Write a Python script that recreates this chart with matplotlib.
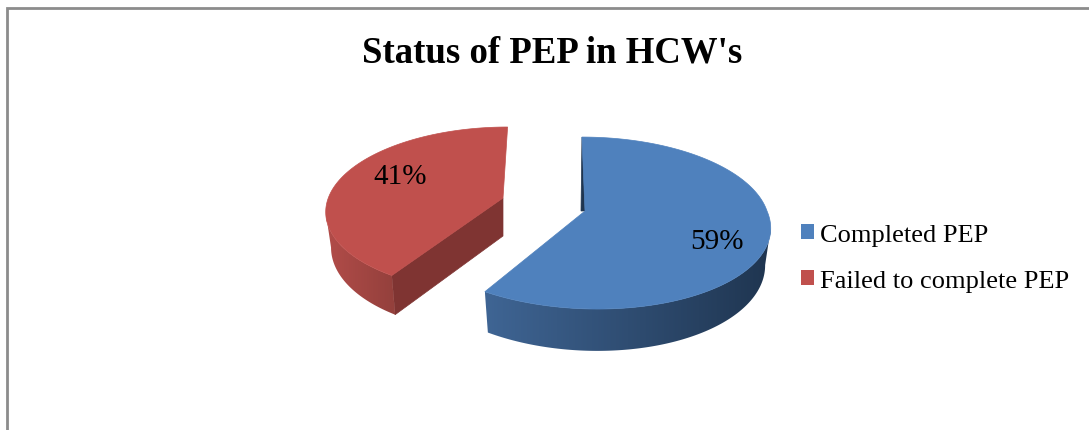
import numpy as np
import matplotlib.pyplot as plt
from matplotlib.colors import LinearSegmentedColormap
from matplotlib.patches import Patch, Polygon

categories = ["Completed PEP", "Failed to complete PEP"]
percent = [59, 41]
title = "Status of PEP in HCW's"

plt.rcParams['font.family'] = ['Liberation Serif', 'DejaVu Serif']

fig = plt.figure(figsize=(10.89, 4.31), dpi=100)
ax = fig.add_axes([0, 0, 1, 1])
ax.axis("off")


def project(r, clock, apex, scale, skew, depth=0.0):
    # clock = degrees clockwise from 12 o'clock, perspective squeezes the back
    t = np.radians(clock)
    x, y = r * np.sin(t), r * np.cos(t)
    w = 1 + 0.14 * y
    s = np.where(y >= 0, skew[0], skew[1])
    shrink = 1 - 0.03 * depth / 36  # lower rim is a bit narrower
    sx = apex[0] + scale * shrink * 182 * (x + s * y) / w
    sy = apex[1] - scale * 84.3 * y / w + scale * depth / w
    return np.column_stack([sx, sy])


def outer_wall(clock, apex, scale, skew, col_a, col_b, z):
    # gradient runs left to right, clipped to the wall outline
    top = project(1, clock, apex, scale, skew)
    bot = project(1, clock, apex, scale, skew, 36)
    outline = np.vstack([top, bot[::-1]])
    cmap = LinearSegmentedColormap.from_list("wall", [col_a, col_b])
    x0, x1 = outline[:, 0].min(), outline[:, 0].max()
    y0, y1 = outline[:, 1].min(), outline[:, 1].max()
    im = ax.imshow(np.linspace(0, 1, 256).reshape(1, -1), cmap=cmap, aspect="auto",
                   extent=(x0, x1, y1, y0), zorder=z)
    poly = Polygon(outline, closed=True, fc="none", ec="none", transform=ax.transData)
    ax.add_patch(poly)
    im.set_clip_path(poly)


def top_face(clock, apex, scale, skew, col, z):
    rim = project(1, clock, apex, scale, skew)
    ax.add_patch(Polygon(np.vstack([[apex], rim]), closed=True, fc=col, ec=col, lw=0.5, zorder=z))


# slice angles come from the percentages
edges = np.concatenate([[0], np.cumsum(percent)]) * 3.6

# blue slice
blue_apex = (585, 212)
blue_skew = (-0.019, -0.06)
blue_clock = np.linspace(edges[0], edges[1], 240)
# wall starts at the rightmost point of the rim
right = np.argmax(project(1, blue_clock, blue_apex, 1.0, blue_skew)[:, 0])
outer_wall(blue_clock[right:], blue_apex, 1.0, blue_skew, "#3f6594", "#1f3550", 1)
rim_top = project(1, edges[0], blue_apex, 1.0, blue_skew)[0]
ax.add_patch(Polygon([rim_top, blue_apex, (blue_apex[0] - 4, blue_apex[1])], closed=True,
                     fc="#1f3550", ec="#1f3550", lw=0.5, zorder=1))
top_face(blue_clock, blue_apex, 1.0, blue_skew, "#4f81bd", 2)

# red slice, pulled out to the upper left
red_apex = (503, 199)
red_skew = (0.03, 0.03)
red_clock = np.linspace(edges[1], edges[2], 180)
tip_top = project(1, edges[1], red_apex, 0.96, red_skew)[0]
tip_bot = project(1, edges[1], red_apex, 0.96, red_skew, 36)[0]
ax.add_patch(Polygon([red_apex, tip_top, tip_bot, (red_apex[0], red_apex[1] + 38)], closed=True,
                     fc="#7f3432", ec="#7f3432", lw=0.5, zorder=1))
left = np.argmin(project(1, red_clock, red_apex, 0.96, red_skew)[:, 0])
outer_wall(red_clock[:left + 1], red_apex, 0.96, red_skew, "#b24c49", "#93403c", 1)
top_face(red_clock, red_apex, 0.96, red_skew, "#c0504d", 2)

ax.set_xlim(0, 1089)
ax.set_ylim(431, 0)

# data labels
ax.text(400, 177, f"{percent[1]}%", fontsize=21, ha="center", va="center", zorder=3)
ax.text(717, 242, f"{percent[0]}%", fontsize=21, ha="center", va="center", zorder=3)

ax.text(552, 53, title, fontsize=26.5, fontweight="bold", ha="center", va="center")

handles = [Patch(fc="#4f81bd", ec="none"), Patch(fc="#c0504d", ec="none")]
ax.legend(handles, categories, loc="upper left", bbox_to_anchor=(793 / 1089, 1 - 217 / 431),
          frameon=False, fontsize=19, handlelength=0.5, handleheight=0.5,
          handletextpad=0.22, labelspacing=0.9, borderaxespad=0, borderpad=0.3)

# chart frame, cropped on the right and bottom
ax.plot([7, 7, 1089], [431, 9, 9], color="#8c8c8c", lw=2, solid_joinstyle="miter", clip_on=False)

fig.savefig("out.png", dpi=100)
